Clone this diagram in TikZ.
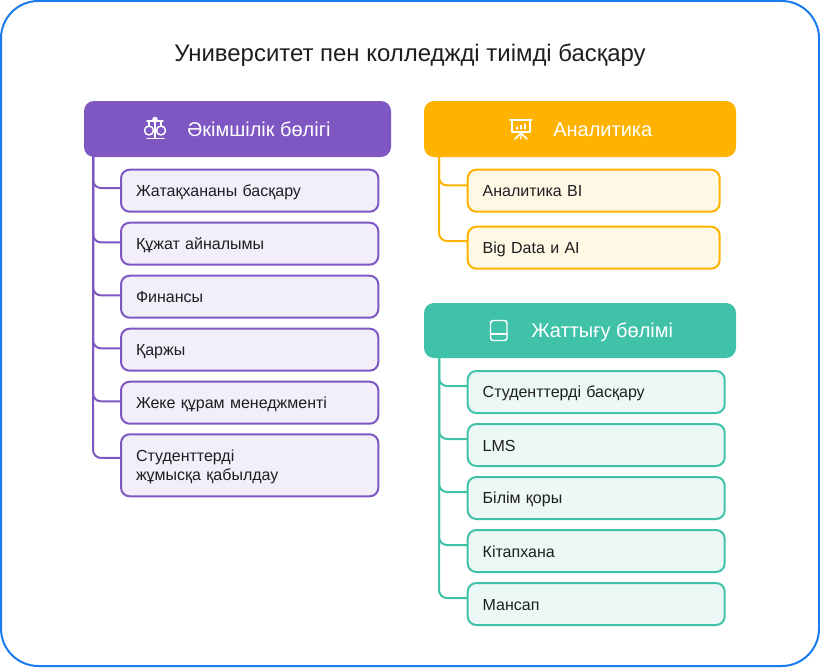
\documentclass[tikz,border=0pt]{standalone}
\usepackage{fontspec}
\setmainfont{Liberation Sans}
\definecolor{framec}{HTML}{1A7BEE}
\definecolor{adminc}{HTML}{7E57C2}
\definecolor{adminl}{HTML}{F2EEFA}
\definecolor{analytc}{HTML}{FFB300}
\definecolor{analytl}{HTML}{FFF8E5}
\definecolor{trainc}{HTML}{40C2A9}
\definecolor{trainl}{HTML}{ECF8F6}
\definecolor{inkc}{HTML}{1E1E1E}
\newcommand{\itemstrut}{\rule[-2pt]{0pt}{13pt}}
\tikzset{
  header/.style={anchor=north west,fill=#1,rounded corners=7.5pt,minimum height=42pt,inner sep=0pt,outer sep=0pt},
  headtext/.style={anchor=base west,text=white,inner sep=0pt,font=\fontsize{15}{18}\selectfont},
  item/.style={anchor=north west,draw=#1,line width=1.5pt,rounded corners=6.5pt,minimum height=31.5pt,
    inner xsep=11.25pt,inner ysep=0pt,outer sep=0pt,align=left,text=inkc,font=\fontsize{12}{14.25}\selectfont,
    execute at begin node={\itemstrut},execute at end node={\itemstrut}},
  branch/.style={draw=#1,line width=1.5pt,rounded corners=6pt},
  iconline/.style={draw=white,line width=1.1pt,line cap=round,line join=round}
}
\begin{document}
\begin{tikzpicture}[x=0.75pt,y=-0.75pt]
\useasboundingbox (0,0) rectangle (820,667);
\node[anchor=north west,draw=framec,line width=1.5pt,rounded corners=28pt,minimum width=613.5pt,minimum height=498.75pt,inner sep=0pt,outer sep=0pt] (frame) at (1,1) {};
\node[text=inkc,font=\fontsize{17.95}{20}\selectfont,inner sep=0pt] (title) at (410,55) {Университет пен колледжді тиімді басқару};
\coordinate (tadmin) at (93,150);
\coordinate (tanalyt) at (439,150);
\coordinate (ttrain) at (439,352);
% admin column
\foreach \n/\t/\y/\h in {a1/Жатақхананы басқару/169.7/31.5pt,a2/Құжат айналымы/222.7/31.5pt,a3/Финансы/275.7/31.5pt,a4/Қаржы/328.7/31.5pt,a5/Жеке құрам менеджменті/381.7/31.5pt,a6/{Студенттерді\\жұмысқа қабылдау}/434.3/46.5pt}
  \node[item=adminc,fill=adminl,minimum height=\h,text width=170.5pt] (\n) at (121,\y) {\t};
\foreach \n/\d in {a1/2,a2/1,a3/1,a4/1,a5/1,a6/5.5}
  \draw[branch=adminc] (tadmin) |- ([yshift=\d pt]\n.west);
% analytics column
\foreach \n/\t/\y in {b1/Аналитика BI/169.7,b2/Big Data и AI/226.7}
  \node[item=analytc,fill=analytl,text width=166.5pt] (\n) at (467.7,\y) {\t};
\foreach \n/\d in {b1/4,b2/5}
  \draw[branch=analytc] (tanalyt) |- ([yshift=\d pt]\n.west);
% training column
\foreach \n/\t/\y in {c1/Студенттерді басқару/371,c2/LMS/424,c3/Білім қоры/477,c4/Кітапхана/530,c5/Мансап/583}
  \node[item=trainc,fill=trainl,text width=170.25pt] (\n) at (467.7,\y) {\t};
\foreach \n in {c1,c2,c3,c4,c5}
  \draw[branch=trainc] (ttrain) |- ([yshift=4.5pt]\n.west);
\node[header=adminc,minimum width=230.25pt] (hadmin) at (84,101) {};
\node[header=analytc,minimum width=234pt] (hanalyt) at (424,101) {};
\node[header=trainc,minimum width=234pt,minimum height=41.25pt] (htrain) at (424,303) {};
\node[headtext] (tadm) at (187,136) {Әкімшілік бөлігі};
\node[headtext] (tana) at (553,136) {Аналитика};
\node[headtext] (ttra) at (531,337.5) {Жаттығу бөлімі};
% scales icon
\draw[iconline] (155,119) -- (155,138) (147,138.5) -- (164,138.5) (147,121) -- (163,121);
\draw[iconline] (155,119.5) circle (2);
\draw[iconline] (149,130.5) circle (4.5) (161,130.5) circle (4.5);
\draw[iconline] (149,121) -- (149,126) (161,121) -- (161,126);
% board icon
\draw[iconline] (510,120) -- (532,120) (512,120) -- (512,132) -- (530,132) -- (530,120);
\draw[iconline] (521,132) -- (521,139) (521,133) -- (515,139) (521,133) -- (527,139);
\draw[iconline] (517,129) -- (517,127) (521,129) -- (521,125.5) (525,129) -- (525,124);
% book icon
\draw[iconline,rounded corners=2pt] (490.5,320.5) rectangle (507,340.5);
\draw[iconline] (490.5,334) -- (507,334);
\end{tikzpicture}
\end{document}
